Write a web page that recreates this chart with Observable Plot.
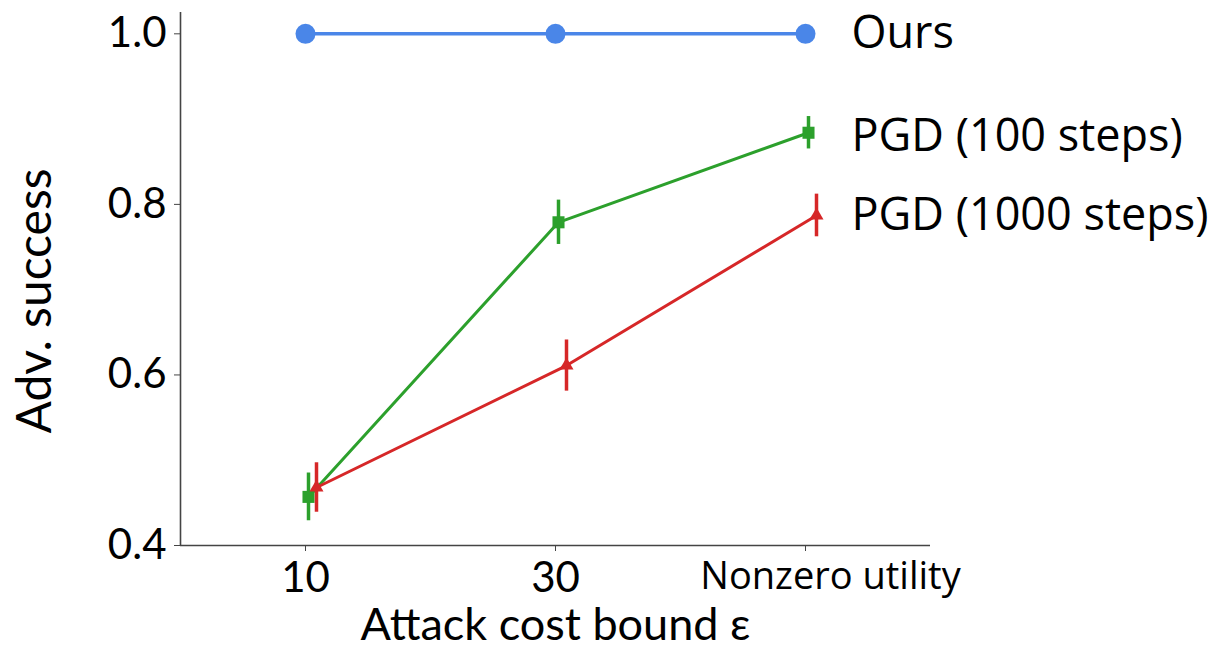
<!DOCTYPE html>
<html>
<head>
<meta charset="utf-8">
<script src="https://cdn.jsdelivr.net/npm/d3@7"></script>
<script src="https://cdn.jsdelivr.net/npm/@observablehq/plot@0.6"></script>
<style>
  html, body { margin: 0; padding: 0; background: white; }
</style>
</head>
<body>
<div id="chart"></div>
<script>
// ---- data ----
const xIndex = [0, 1, 2];
const xTickLabels = ["10", "30", "Nonzero utility"];
const yTicks = [0.4, 0.6, 0.8, 1.0];
const seriesNames = ["Ours", "PGD (100 steps)", "PGD (1000 steps)"];
const seriesColors = ["#4a86e8", "#2ca02c", "#d62728"];
const seriesSymbols = ["circle", "square", "triangle"];
const ours = [1.0, 1.0, 1.0];
const oursErr = [0, 0, 0];
const pgd100 = [0.457, 0.779, 0.884];
const pgd100Err = [0.028, 0.026, 0.019];
const pgd1000 = [0.468, 0.611, 0.787];
const pgd1000Err = [0.029, 0.030, 0.025];
const xLabel = "Attack cost bound ε";
const yLabel = "Adv. success";

// ---- table ----
const values = [ours, pgd100, pgd1000];
const errs = [oursErr, pgd100Err, pgd1000Err];
const rows = [];
seriesNames.forEach((s, si) => {
  xIndex.forEach((x, i) => {
    rows.push({series: s, x, y: values[si][i], lo: values[si][i] - errs[si][i], hi: values[si][i] + errs[si][i]});
  });
});

// style per series (pixel dodge, marker size, line width)
const seriesDx = [0, 3, 11];
const seriesR = [10, 6.8, 5.2];
const seriesW = [3.5, 3, 3];

const axisColor = "#444";
const tickFont = "Lato, 'Liberation Sans', sans-serif";
const labelFont = "'Open Sans', 'Noto Sans', sans-serif";

const marks = [
  Plot.ruleX([-0.5], {y1: 0.4, y2: 1.025, stroke: axisColor, strokeWidth: 1.6}),
  Plot.ruleY([0.4], {x1: -0.5, x2: 2.5, stroke: axisColor, strokeWidth: 1.6}),
  Plot.axisY({ticks: yTicks, tickFormat: d3.format(".1f"), tickSize: 6, tickPadding: 8,
    fontSize: 42, fontFamily: tickFont, stroke: axisColor, label: null}),
  Plot.axisX({ticks: [0, 1], tickFormat: i => xTickLabels[i], tickSize: 6, tickPadding: 11,
    fontSize: 42, fontFamily: tickFont, stroke: axisColor, label: null}),
  Plot.axisX({ticks: [2], tickFormat: () => "", tickSize: 6, stroke: axisColor, label: null}),
  Plot.axisX({ticks: [2], tickFormat: i => xTickLabels[i], tickSize: 0, tickPadding: 17, dx: 25,
    fontSize: 38, fontFamily: labelFont, label: null}),
  Plot.text([xLabel], {frameAnchor: "bottom", dy: 80, fontSize: 45, fontFamily: tickFont,
    textAnchor: "middle", lineAnchor: "middle", fill: "black"}),
  Plot.text([yLabel], {frameAnchor: "left", dx: -145, dy: 22, rotate: -90, fontSize: 48, fontFamily: tickFont,
    textAnchor: "middle", lineAnchor: "middle", fill: "black"})
];

seriesNames.forEach((s, si) => {
  const data = rows.filter(d => d.series === s);
  const c = seriesColors[si];
  marks.push(Plot.line(data, {x: "x", y: "y", stroke: c, strokeWidth: seriesW[si], dx: seriesDx[si]}));
  if (si > 0) {
    marks.push(Plot.ruleX(data, {x: "x", y1: "lo", y2: "hi", stroke: c, strokeWidth: 3.5, dx: seriesDx[si]}));
  }
  marks.push(Plot.dot(data, {x: "x", y: "y", fill: c, stroke: "none", r: seriesR[si], symbol: seriesSymbols[si], dx: seriesDx[si]}));
  marks.push(Plot.text(data.slice(-1), {x: "x", y: "y", text: () => s, dx: 46, dy: si === 1 ? 4 : 0,
    textAnchor: "start", lineAnchor: "middle", fontSize: 45, fontFamily: labelFont, fill: "black"}));
});

const chart = Plot.plot({
  width: 1218,
  height: 647,
  marginLeft: 180,
  marginRight: 288,
  marginTop: 12,
  marginBottom: 102,
  x: {type: "linear", domain: [-0.5, 2.5], axis: null},
  y: {type: "linear", domain: [0.4, 1.025], axis: null},
  style: {fontFamily: tickFont, background: "white", color: "black", overflow: "visible"},
  marks
});
document.getElementById("chart").appendChild(chart);
</script>
</body>
</html>
